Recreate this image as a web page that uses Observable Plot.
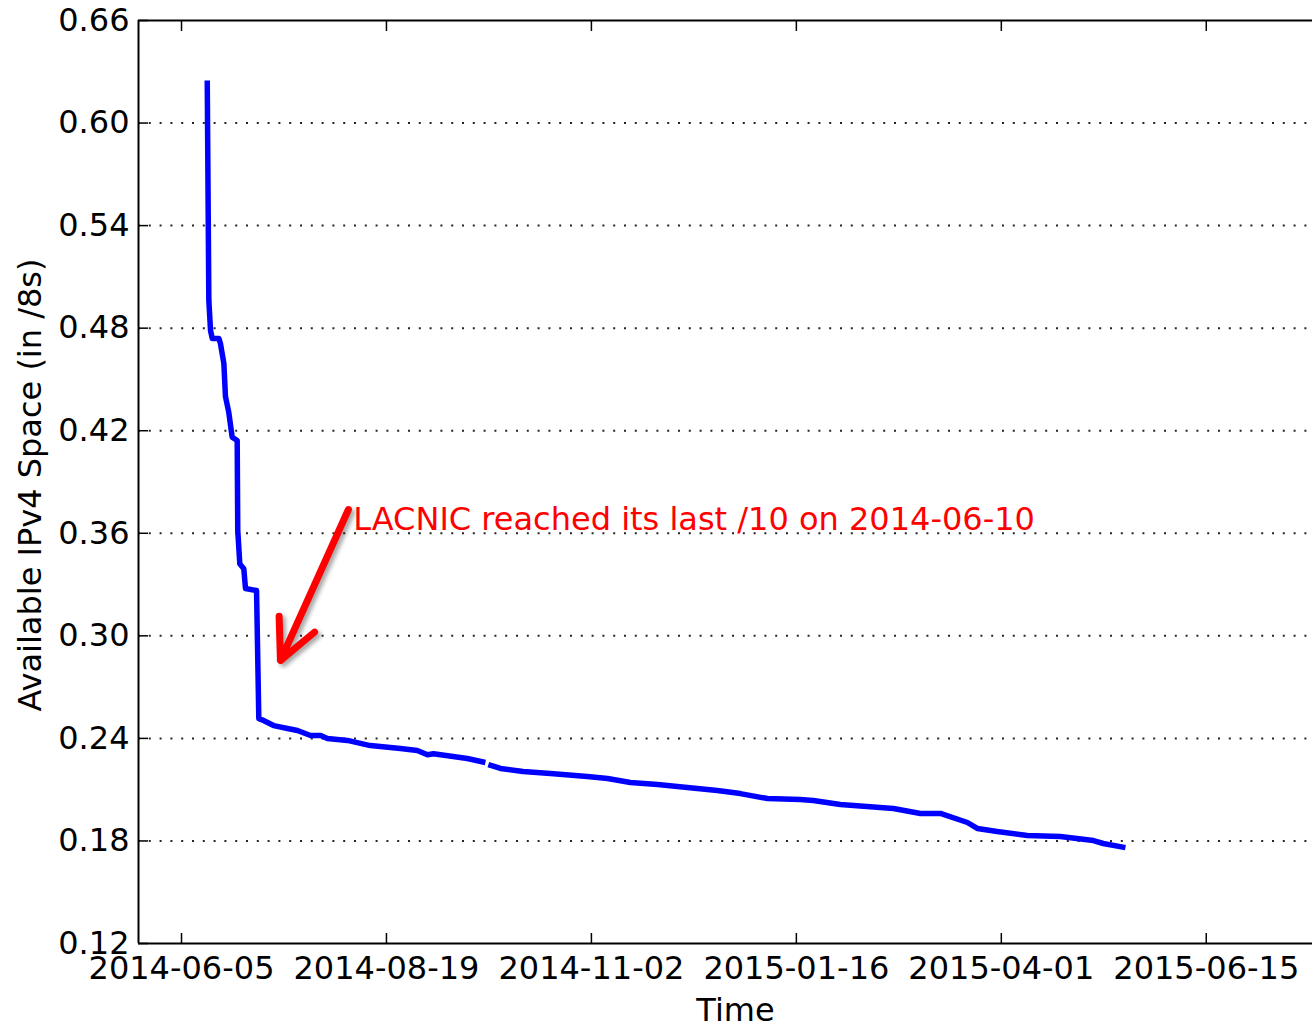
<!DOCTYPE html>
<html>
<head>
<meta charset="utf-8">
<script src="https://cdn.jsdelivr.net/npm/d3@7"></script>
<script src="https://cdn.jsdelivr.net/npm/@observablehq/plot@0.6"></script>
<style>
  html, body { margin: 0; padding: 0; background: #fff; }
</style>
</head>
<body>
<div id="chart"></div>
<script>
// ---- data ----
const times = [
  "2014-06-14T10:00", "2014-06-15T00:00", "2014-06-15T15:00", "2014-06-16T06:00",
  "2014-06-18T16:00", "2014-06-19T06:00", "2014-06-20T12:00", "2014-06-21T02:00",
  "2014-06-22T07:00", "2014-06-23T13:00", "2014-06-25T09:00", "2014-06-25T14:00",
  "2014-06-26T08:00", "2014-06-27T19:00", "2014-06-28T10:00", "2014-07-02T11:00",
  "2014-07-03T07:00", "2014-07-05T00:00", "2014-07-08T17:00", "2014-07-13T19:00",
  "2014-07-17T10:00", "2014-07-22T05:00", "2014-07-25T22:00", "2014-07-28T10:00",
  "2014-08-04T17:00", "2014-08-13T02:00", "2014-08-24T02:00", "2014-08-30T07:00",
  "2014-09-03T00:00", "2014-09-05T05:00", "2014-09-17T14:00", "2014-09-24T05:00",
  "2014-09-24T18:00",
  "2014-09-25T07:00", "2014-09-29T17:00", "2014-10-08T00:00", "2014-10-18T00:00",
  "2014-10-31T12:00", "2014-11-07T22:00", "2014-11-16T07:00", "2014-11-26T05:00",
  "2014-12-07T02:00", "2014-12-18T02:00", "2014-12-26T12:00", "2015-01-05T10:00",
  "2015-01-17T10:00", "2015-01-22T05:00", "2015-02-01T02:00", "2015-02-20T12:00",
  "2015-03-02T10:00", "2015-03-09T17:00", "2015-03-19T14:00", "2015-03-23T05:00",
  "2015-03-30T12:00", "2015-04-10T12:00", "2015-04-22T14:00", "2015-05-04T17:00",
  "2015-05-08T07:00", "2015-05-16T10:00"
];
const values = [
  0.6249, 0.4962, 0.4786, 0.4740,
  0.4740, 0.4710, 0.4593, 0.4400,
  0.4308, 0.4162, 0.4143, 0.3616,
  0.3421, 0.3392, 0.3277, 0.3265,
  0.2515, 0.2505, 0.2475, 0.2458,
  0.2446, 0.2417, 0.2417, 0.2399,
  0.2388, 0.2358, 0.2341, 0.2329,
  0.2304, 0.2310, 0.2282, 0.2259,
  null,
  0.2247, 0.2224, 0.2206, 0.2195,
  0.2177, 0.2165, 0.2142, 0.2130,
  0.2113, 0.2095, 0.2077, 0.2048,
  0.2042, 0.2037, 0.2013, 0.1990,
  0.1961, 0.1961, 0.1908, 0.1873,
  0.1855, 0.1832, 0.1826, 0.1802,
  0.1785, 0.1761
];
const xTickLabels = ["2014-06-05", "2014-08-19", "2014-11-02", "2015-01-16", "2015-04-01", "2015-06-15"];
const yTicks = [0.12, 0.18, 0.24, 0.30, 0.36, 0.42, 0.48, 0.54, 0.60, 0.66];
const gridTicks = [0.18, 0.24, 0.30, 0.36, 0.42, 0.48, 0.54, 0.60];
const xDomain = ["2014-05-20T06:15", "2015-07-23T21:00"];
const yDomain = [0.12, 0.66];
const xLabel = "Time";
const yLabel = "Available IPv4 Space (in /8s)";
const noteText = "LACNIC reached its last /10 on 2014-06-10";
const noteAt = ["2014-08-06T20:00", 0.3681];
const arrowFrom = ["2014-08-05T02:00", 0.3739];
const arrowTo = ["2014-07-11T05:00", 0.2856];

// ---- build ----
const parseT = d3.utcParse("%Y-%m-%dT%H:%M");
const parseD = d3.utcParse("%Y-%m-%d");
const data = times.map((t, i) => ({t: parseT(t), v: values[i]}));
const xTicks = xTickLabels.map(parseD);
const fs = 32;

const chart = Plot.plot({
  width: 1312,
  height: 1025,
  marginLeft: 138,
  marginRight: 0,
  marginTop: 20,
  marginBottom: 82,
  style: {fontFamily: "'DejaVu Sans', sans-serif", fontSize: fs + "px", background: "white", color: "black"},
  x: {type: "utc", domain: xDomain.map(parseT)},
  y: {domain: yDomain},
  marks: [
    Plot.gridY(gridTicks, {stroke: "black", strokeOpacity: 0.85, strokeWidth: 2, strokeDasharray: "2,8.8"}),
    Plot.ruleY(yDomain, {stroke: "black", strokeWidth: 2}),
    Plot.ruleX([parseT(xDomain[0])], {stroke: "black", strokeWidth: 2}),
    Plot.axisY(yTicks, {anchor: "left", tickSize: 0, tickPadding: 9, tickFormat: d => d.toFixed(2), label: null, fontSize: fs}),
    Plot.axisY(yTicks, {anchor: "left", tickSize: 10, dx: 10, fill: "none", label: null, strokeWidth: 1.5}),
    Plot.axisX(xTicks, {anchor: "bottom", tickSize: 0, tickPadding: 13, tickFormat: d3.utcFormat("%Y-%m-%d"), label: null, fontSize: fs}),
    Plot.axisX(xTicks, {anchor: "bottom", tickSize: 10, dy: -10, fill: "none", label: null, strokeWidth: 1.5}),
    Plot.axisX(xTicks, {anchor: "top", tickSize: 10, dy: 10, fill: "none", label: null, strokeWidth: 1.5}),
    Plot.line(data, {x: "t", y: "v", stroke: "#0000ff", strokeWidth: 5.5, strokeLinejoin: "round", strokeLinecap: "butt"}),
    Plot.arrow([{x1: parseT(arrowFrom[0]), y1: arrowFrom[1], x2: parseT(arrowTo[0]), y2: arrowTo[1]}],
      {x1: "x1", y1: "y1", x2: "x2", y2: "y2", stroke: "#ff0000", strokeWidth: 7, headLength: 9.5, headAngle: 52}),
    Plot.text([noteText], {x: () => parseT(noteAt[0]), y: () => noteAt[1], text: d => d, textAnchor: "start", lineAnchor: "middle", fill: "#ff0000", fontSize: fs}),
    Plot.text([xLabel], {frameAnchor: "bottom", lineAnchor: "middle", textAnchor: "middle", dy: 67, dx: 10, text: d => d, fill: "black", fontSize: fs}),
    Plot.text([yLabel], {frameAnchor: "left", lineAnchor: "middle", textAnchor: "middle", rotate: -90, dx: -108, dy: 3, text: d => d, fill: "black", fontSize: fs})
  ]
});

d3.select(chart).select('g[aria-label="arrow"]').style("filter", "drop-shadow(3px 3px 2px rgba(0,0,0,0.35))");
document.getElementById("chart").appendChild(chart);
</script>
</body>
</html>
